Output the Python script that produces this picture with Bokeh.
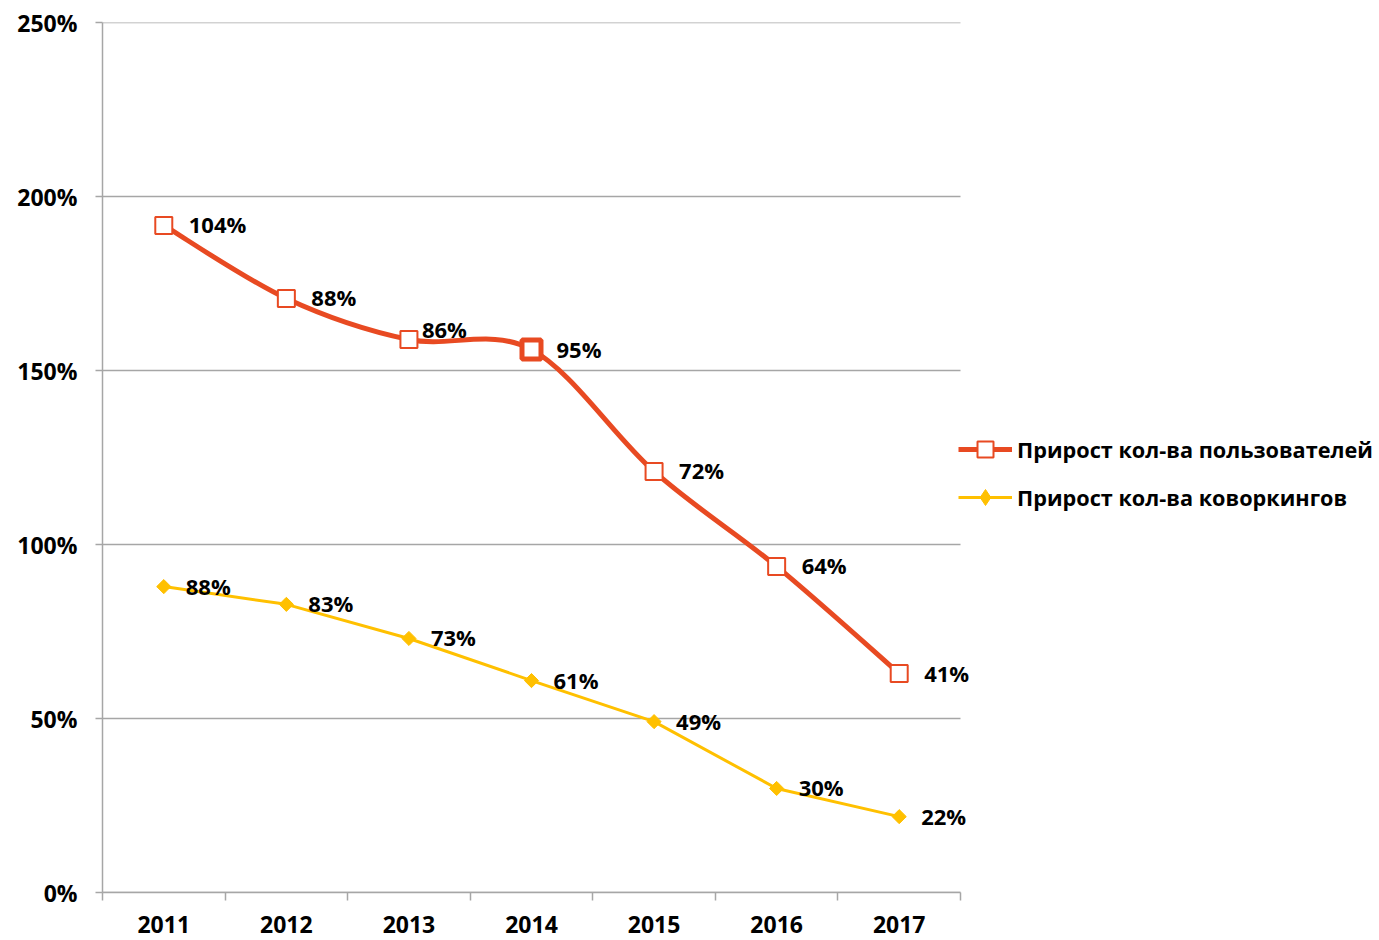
import numpy as np
from bokeh.plotting import figure
from bokeh.models import FixedTicker, Legend, LegendItem, ColumnDataSource, LabelSet
from bokeh.core.properties import value
from bokeh.embed import file_html
from bokeh.resources import INLINE

years = [2011, 2012, 2013, 2014, 2015, 2016, 2017]
users_values = [191.7, 170.7, 158.9, 156.0, 121.0, 93.7, 62.9]
users_labels = ["104%", "88%", "86%", "95%", "72%", "64%", "41%"]
cow_values = [87.9, 82.8, 73.0, 60.9, 49.1, 29.9, 21.8]
cow_labels = ["88%", "83%", "73%", "61%", "49%", "30%", "22%"]
y_ticks = [0, 50, 100, 150, 200, 250]
series_names = ["Прирост кол-ва пользователей", "Прирост кол-ва коворкингов"]

RED = "#E84A22"
YEL = "#FFC000"
GRID = "#A6A6A6"
FONT = "Open Sans"

# layout: category area is 858 px wide starting at x=102; frame extends to the
# right edge so that labels and legend outside the category area are not clipped
W, H = 1379, 940
LEFT, CAT_W = 102, 858
x_lo = years[0] - 0.5
x_hi_cat = years[-1] + 0.5
x_hi = x_lo + (x_hi_cat - x_lo) * (W - LEFT) / CAT_W

p = figure(width=W, height=H, output_backend="svg", toolbar_location=None,
           x_range=(x_lo, x_hi), y_range=(0, 250),
           min_border_left=LEFT, min_border_right=0, min_border_top=22, min_border_bottom=48)
p.outline_line_color = None
p.background_fill_color = "white"

# horizontal grid lines restricted to the category area
p.segment(x0=x_lo, x1=x_hi_cat, y0=y_ticks, y1=y_ticks, line_color=GRID, line_width=1.5)

# smoothed red line (Catmull-Rom style bezier segments)
xs = np.array(years, dtype=float)
ys = np.array(users_values, dtype=float)
prev_x = np.concatenate([[xs[0]], xs[:-1]])
prev_y = np.concatenate([[ys[0]], ys[:-1]])
next_x = np.concatenate([xs[1:], [xs[-1]]])
next_y = np.concatenate([ys[1:], [ys[-1]]])
tx = (next_x - prev_x) / 6.0
ty = (next_y - prev_y) / 6.0
bz = ColumnDataSource(dict(
    x0=xs[:-1], y0=ys[:-1], x1=xs[1:], y1=ys[1:],
    cx0=xs[:-1] + tx[:-1], cy0=ys[:-1] + ty[:-1],
    cx1=xs[1:] - tx[1:], cy1=ys[1:] - ty[1:]))
p.bezier(x0="x0", y0="y0", x1="x1", y1="y1", cx0="cx0", cy0="cy0", cx1="cx1", cy1="cy1",
         source=bz, line_color=RED, line_width=5)

# yellow straight line
p.line(years, cow_values, line_color=YEL, line_width=3)
p.scatter(years, cow_values, marker="square", angle=np.pi / 4, size=10,
          fill_color=YEL, line_color=YEL, line_width=1)

# red markers
lw = [5 if yr == 2014 else 2 for yr in years]
sz = [19 if yr == 2014 else 17 for yr in years]
rsrc = ColumnDataSource(dict(x=years, y=users_values, lw=lw, sz=sz))
p.scatter("x", "y", source=rsrc, marker="square", size="sz", fill_color="white",
          line_color=RED, line_width="lw")

# data labels
rlab = ColumnDataSource(dict(x=years, y=users_values, t=users_labels,
                             xo=[13 if yr == 2013 else 25 for yr in years],
                             yo=[11 if yr == 2013 else 1 for yr in years]))
p.add_layout(LabelSet(x="x", y="y", text="t", source=rlab, x_offset="xo", y_offset="yo",
                      text_font=value(FONT), text_font_style="bold", text_font_size="22px",
                      text_baseline="middle", text_align="left", text_color="black"))
ylab = ColumnDataSource(dict(x=years, y=cow_values, t=cow_labels))
p.add_layout(LabelSet(x="x", y="y", text="t", source=ylab, x_offset=22, y_offset=1,
                      text_font=value(FONT), text_font_style="bold", text_font_size="22px",
                      text_baseline="middle", text_align="left", text_color="black"))

# axes
p.xaxis.bounds = (x_lo, x_hi_cat)
p.xaxis.ticker = FixedTicker(ticks=years, minor_ticks=[y - 0.5 for y in years] + [x_hi_cat])
p.xaxis.major_tick_out = 0
p.xaxis.major_tick_in = 0
p.xaxis.minor_tick_out = 8
p.xaxis.minor_tick_in = 0
p.xaxis.minor_tick_line_color = GRID
p.xaxis.minor_tick_line_width = 1.5
p.xaxis.axis_line_color = GRID
p.xaxis.axis_line_width = 1.5
p.xaxis.major_label_standoff = 15
p.xaxis.major_label_text_font = FONT
p.xaxis.major_label_text_font_style = "bold"
p.xaxis.major_label_text_font_size = "23px"
p.xaxis.major_label_text_color = "black"

p.yaxis.ticker = FixedTicker(ticks=y_ticks)
p.yaxis.major_label_overrides = {t: f"{t}%" for t in y_ticks}
p.yaxis.major_tick_out = 7
p.yaxis.major_tick_in = 0
p.yaxis.major_tick_line_color = GRID
p.yaxis.major_tick_line_width = 1.5
p.yaxis.minor_tick_line_color = None
p.yaxis.axis_line_color = GRID
p.yaxis.axis_line_width = 1.5
p.yaxis.major_label_standoff = 18
p.yaxis.major_label_text_font = FONT
p.yaxis.major_label_text_font_style = "bold"
p.yaxis.major_label_text_font_size = "23px"
p.yaxis.major_label_text_color = "black"

p.xgrid.grid_line_color = None
p.ygrid.grid_line_color = None

# legend proxies (not drawn in the plot: NaN data)
lr_line = p.line([np.nan], [np.nan], line_color=RED, line_width=5)
lr_mark = p.scatter([np.nan], [np.nan], marker="square", fill_color="white",
                    line_color=RED, line_width=2)
ly_line = p.line([np.nan], [np.nan], line_color=YEL, line_width=3)
ly_mark = p.scatter([np.nan], [np.nan], marker="diamond",
                    fill_color=YEL, line_color=YEL)

legend = Legend(items=[LegendItem(label=series_names[0], renderers=[lr_line, lr_mark]),
                       LegendItem(label=series_names[1], renderers=[ly_line, ly_mark])],
                location=(856, 375))
legend.border_line_color = None
legend.background_fill_alpha = 0
legend.padding = 0
legend.margin = 0
legend.spacing = 8
legend.glyph_width = 54
legend.glyph_height = 40
legend.label_height = 24
legend.label_standoff = 5
legend.label_text_font = FONT
legend.label_text_font_style = "bold"
legend.label_text_font_size = "21.7px"
legend.label_text_color = "black"
p.add_layout(legend)

open("out.html", "w").write(file_html(p, INLINE))
